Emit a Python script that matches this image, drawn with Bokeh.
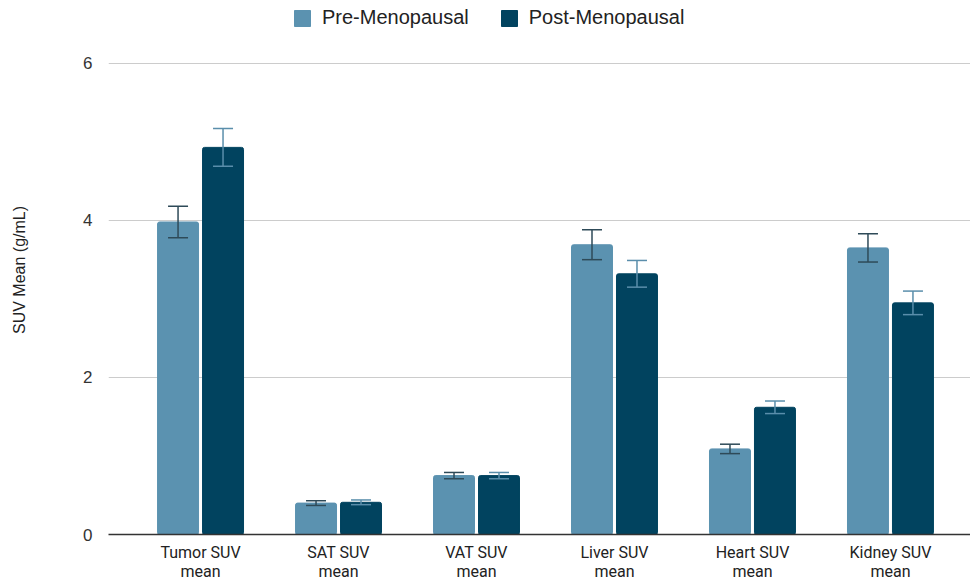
from bokeh.plotting import figure
from bokeh.models import (ColumnDataSource, Whisker, TeeHead, Legend, LegendItem,
                          FixedTicker, Range1d)
from bokeh.embed import file_html
from bokeh.resources import INLINE

categories = ["Tumor SUV\nmean", "SAT SUV\nmean", "VAT SUV\nmean",
              "Liver SUV\nmean", "Heart SUV\nmean", "Kidney SUV\nmean"]
pre_values = [3.98, 0.40, 0.75, 3.69, 1.09, 3.65]
pre_errors = [0.20, 0.03, 0.04, 0.19, 0.06, 0.18]
post_values = [4.93, 0.41, 0.75, 3.32, 1.62, 2.95]
post_errors = [0.24, 0.03, 0.04, 0.17, 0.08, 0.15]
series_names = ["Pre-Menopausal", "Post-Menopausal"]
y_ticks = [0, 2, 4, 6]

PRE_COLOR = "#5b92b0"
POST_COLOR = "#01435f"
FONT = "Liberation Sans"
XFONT = "Roboto"

idx = list(range(len(categories)))
off = 0.163
pre_src = ColumnDataSource(dict(
    x=[i - off for i in idx], top=pre_values,
    upper=[v + e for v, e in zip(pre_values, pre_errors)],
    lower=[v - e for v, e in zip(pre_values, pre_errors)]))
post_src = ColumnDataSource(dict(
    x=[i + off for i in idx], top=post_values,
    upper=[v + e for v, e in zip(post_values, post_errors)],
    lower=[v - e for v, e in zip(post_values, post_errors)]))

# y range extends above 6 so the legend sits inside the frame (top strip)
p = figure(width=970, height=583, output_backend="svg", toolbar_location=None,
           x_range=Range1d(-0.667, 5.580), y_range=Range1d(0, 6.737),
           min_border_left=108, min_border_right=0, min_border_top=5,
           min_border_bottom=48)
p.outline_line_color = None
p.background_fill_color = "white"

r_pre = p.vbar(x="x", top="top", width=0.297, source=pre_src, color=PRE_COLOR,
               border_radius=2)
r_post = p.vbar(x="x", top="top", width=0.297, source=post_src, color=POST_COLOR,
                border_radius=2)

w1 = Whisker(base="x", upper="upper", lower="lower", source=pre_src, level="overlay",
             line_color="#2e4a58", line_width=1.5,
             upper_head=TeeHead(size=20, line_color="#2e4a58", line_width=1.5),
             lower_head=TeeHead(size=20, line_color="#2e4a58", line_width=1.5))
w2 = Whisker(base="x", upper="upper", lower="lower", source=post_src, level="overlay",
             line_color="#5a8eab", line_width=1.5,
             upper_head=TeeHead(size=20, line_color="#5a8eab", line_width=1.5),
             lower_head=TeeHead(size=20, line_color="#5a8eab", line_width=1.5))
p.add_layout(w1)
p.add_layout(w2)

# axes
p.xaxis.ticker = FixedTicker(ticks=idx)
p.xaxis.major_label_overrides = {i: c for i, c in zip(idx, categories)}
p.xaxis.major_tick_line_color = None
p.xaxis.minor_tick_line_color = None
p.xaxis.axis_line_color = "#333333"
p.xaxis.axis_line_width = 1.5
p.xaxis.major_label_text_font = XFONT
p.xaxis.major_label_text_font_size = "16px"
p.xaxis.major_label_text_color = "#222222"
p.xaxis.major_label_standoff = 2
p.xaxis.major_label_text_line_height = 1.0

p.yaxis.ticker = FixedTicker(ticks=y_ticks)
p.yaxis.axis_line_color = None
p.yaxis.major_tick_line_color = None
p.yaxis.minor_tick_line_color = None
p.yaxis.major_label_text_font = FONT
p.yaxis.major_label_text_font_size = "17px"
p.yaxis.major_label_text_color = "#333333"
p.yaxis.major_label_standoff = 10
p.yaxis.axis_label = "SUV Mean (g/mL)"
p.yaxis.axis_label_text_font = FONT
p.yaxis.axis_label_text_font_size = "16px"
p.yaxis.axis_label_text_font_style = "normal"
p.yaxis.axis_label_text_color = "#222222"
p.yaxis.axis_label_standoff = 52

p.xgrid.grid_line_color = None
p.ygrid.ticker = FixedTicker(ticks=y_ticks)
p.ygrid.grid_line_color = "#cccccc"
p.ygrid.grid_line_width = 1

legend = Legend(items=[LegendItem(label=series_names[0], renderers=[r_pre]),
                       LegendItem(label=series_names[1], renderers=[r_post])],
                orientation="horizontal", location=(184, 505),
                label_text_font=FONT, label_text_font_size="20px",
                label_text_color="#222222", glyph_width=20, glyph_height=20,
                spacing=30, label_standoff=10, border_line_color=None,
                background_fill_alpha=0, padding=0, margin=0)
p.add_layout(legend, "center")

open("out.html", "w").write(file_html(p, INLINE))
